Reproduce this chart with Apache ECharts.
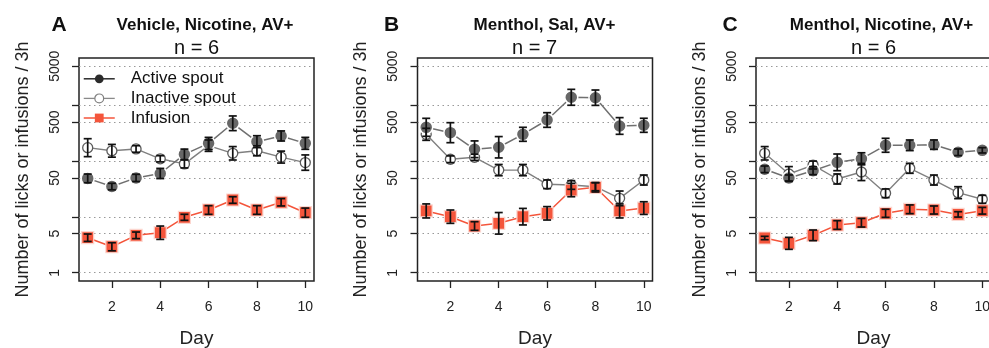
<!DOCTYPE html>
<html>
<head>
<meta charset="utf-8">
<script src="https://cdn.jsdelivr.net/npm/echarts@6/dist/echarts.min.js"></script>
<style>
  html, body { margin: 0; padding: 0; background: #fff; }
  #chart { width: 989px; height: 348px; }
</style>
</head>
<body>
<div id="chart"></div>
<script>
// data (mean and upper error per day)
const days = [1, 2, 3, 4, 5, 6, 7, 8, 9, 10];

const aActive = [49, 35, 50, 60, 132, 208, 476, 223, 282, 208];
const aActiveSem = [9.6, 5, 8, 14, 32, 58, 168, 62, 65, 58];
const aInactive = [174, 153, 165, 110, 89, 189, 138, 153, 118, 94];
const aInactiveSem = [78, 46, 24, 15, 16, 50, 44, 35, 33, 35];
const aInfusion = [4.24, 2.92, 4.68, 5.21, 9.84, 13.3, 20.1, 13.3, 18.3, 11.9];
const aInfusionSem = [0.7, 0.53, 0.68, 1.65, 1.3, 2.6, 2.9, 2.6, 3.0, 2.5];

const bActive = [403, 323, 163, 177, 302, 545, 1390, 1368, 426, 438];
const bActiveSem = [181, 165, 67, 98, 101, 192, 540, 510, 175, 147];
const bInactive = [302, 108, 117, 69, 69, 38.4, 37.3, 34.8, 21.5, 45.8];
const bInactiveSem = [85, 16, 16, 18, 18, 7.5, 7.3, 6.3, 7.6, 10.5];
const bInfusion = [12.8, 10.1, 6.87, 7.68, 10.1, 11.6, 30.3, 33.9, 12.8, 14.4];
const bInfusionSem = [4.3, 3.2, 1.34, 4.3, 4.1, 3.7, 9.6, 7.2, 4.3, 4.3];

const cActive = [71.3, 49.8, 67.3, 95, 110, 192, 192, 197, 144, 156];
const cActiveSem = [10.4, 6.6, 12, 39, 31, 64, 47, 42, 21, 18];
const cInactive = [138, 58.7, 85, 47.8, 63.8, 26.5, 74.3, 45.8, 27.2, 20.7];
const cInactiveSem = [44, 21, 15, 11, 27, 5.2, 17, 10.5, 7.6, 3.7];
const cInfusion = [4.19, 3.36, 4.68, 7.16, 7.87, 11.6, 13.7, 13.3, 11.1, 12.9];
const cInfusionSem = [0.3, 0.94, 1.15, 1.4, 1.53, 2.1, 2.7, 2.4, 1.3, 1.9];

const letters = ['A', 'B', 'C'];
const titles = ['Vehicle, Nicotine, AV+', 'Menthol, Sal, AV+', 'Menthol, Nicotine, AV+'];
const groupN = [6, 7, 6];

const yTickValues = [1, 5, 10, 50, 100, 500, 1000, 5000];
const yLabelValues = [1, 5, 50, 500, 5000];
const xLabelValues = [2, 4, 6, 8, 10];

const panels = [
  { active: aActive, activeSem: aActiveSem, inactive: aInactive, inactiveSem: aInactiveSem, inf: aInfusion, infSem: aInfusionSem },
  { active: bActive, activeSem: bActiveSem, inactive: bInactive, inactiveSem: bInactiveSem, inf: bInfusion, infSem: bInfusionSem },
  { active: cActive, activeSem: cActiveSem, inactive: cInactive, inactiveSem: cInactiveSem, inf: cInfusion, infSem: cInfusionSem }
];

const FONT = '"Liberation Sans", Arial, Helvetica, sans-serif';
const red = '#f4553b';
const gridLefts = [79, 417.5, 756];
const letterX = [59, 391.5, 730];
const titleX = [205, 544.5, 881.5];
const nX = [196.5, 534.5, 873.5];

function pairs(ys) {
  return days.map((d, i) => [d, ys[i]]);
}
// bars in the figure look even on the log axis: same ratio up and down
function errPairs(ys, sem) {
  return days.map((d, i) => {
    const hi = ys[i] + sem[i];
    return [d, ys[i] * ys[i] / hi, hi];
  });
}

function errRender(params, api) {
  const x = api.value(0);
  const top = api.coord([x, api.value(2)]);
  const bot = api.coord([x, api.value(1)]);
  const w = 4;
  const style = { stroke: '#111', lineWidth: 1.7 };
  return {
    type: 'group',
    children: [
      { type: 'line', shape: { x1: top[0], y1: top[1], x2: bot[0], y2: bot[1] }, style: style },
      { type: 'line', shape: { x1: top[0] - w, y1: top[1], x2: top[0] + w, y2: top[1] }, style: style },
      { type: 'line', shape: { x1: bot[0] - w, y1: bot[1], x2: bot[0] + w, y2: bot[1] }, style: style }
    ]
  };
}

const grids = [], xAxes = [], yAxes = [], series = [], graphics = [];

panels.forEach((p, k) => {
  grids.push({
    left: gridLefts[k], top: 58, width: 235, height: 223,
    show: true, borderColor: '#222', borderWidth: 1.5,
    outerBoundsMode: 'none', containLabel: false
  });
  xAxes.push({
    type: 'value', gridIndex: k, min: 0.64, max: 10.36,
    name: 'Day', nameLocation: 'middle', nameGap: 48,
    nameTextStyle: { fontFamily: FONT, fontSize: 19, color: '#222' },
    axisLine: { show: false },
    axisTick: { show: true, length: 7, customValues: xLabelValues, lineStyle: { color: '#222', width: 1.3 } },
    axisLabel: { customValues: xLabelValues, margin: 19, fontFamily: FONT, fontSize: 14, color: '#222' },
    splitLine: { show: false }
  });
  yAxes.push({
    type: 'log', logBase: 10, gridIndex: k, min: 0.711, max: 7034,
    name: 'Number of licks or infusions / 3h', nameLocation: 'middle', nameGap: 47,
    nameTextStyle: { fontFamily: FONT, fontSize: 18, color: '#222' },
    axisLine: { show: false },
    axisTick: { show: true, length: 7, customValues: yTickValues, lineStyle: { color: '#222', width: 1.3 } },
    axisLabel: {
      customValues: yLabelValues, rotate: 90, margin: 17,
      fontFamily: FONT, fontSize: 14, color: '#222',
      formatter: v => String(Math.round(v))
    },
    splitLine: { show: true, lineStyle: { color: '#999', width: 1, type: [1.5, 3.5] } }
  });

  series.push({
    name: 'Active spout', type: 'line', xAxisIndex: k, yAxisIndex: k,
    data: pairs(p.active), symbol: 'circle', symbolSize: 13,
    itemStyle: { color: '#676767', borderColor: '#fff', borderWidth: 1.5 },
    lineStyle: { color: '#707070', width: 1.5 }, z: 3
  });
  series.push({
    name: 'Inactive spout', type: 'line', xAxisIndex: k, yAxisIndex: k,
    data: pairs(p.inactive), symbol: 'circle', symbolSize: 10,
    itemStyle: { color: '#fff', borderColor: '#5c5c5c', borderWidth: 1.3 },
    lineStyle: { color: '#808080', width: 1.4 }, z: 2
  });
  series.push({
    name: 'Infusion', type: 'line', xAxisIndex: k, yAxisIndex: k,
    data: pairs(p.inf), symbol: 'rect', symbolSize: 12,
    itemStyle: { color: red, borderColor: '#fcd6cf', borderWidth: 1.2 },
    lineStyle: { color: red, width: 1.5 }, z: 3
  });
  [[p.active, p.activeSem], [p.inactive, p.inactiveSem], [p.inf, p.infSem]].forEach(([m, s]) => {
    series.push({
      type: 'custom', xAxisIndex: k, yAxisIndex: k, z: 5,
      data: errPairs(m, s), encode: { x: 0, y: [1, 2] },
      renderItem: errRender, silent: true
    });
  });

  graphics.push({
    type: 'text', x: letterX[k], y: 25,
    style: { text: letters[k], font: 'bold 21px ' + FONT, fill: '#111', align: 'center', verticalAlign: 'middle', textAlign: 'center', textVerticalAlign: 'middle' }
  });
  graphics.push({
    type: 'text', x: titleX[k], y: 25,
    style: { text: titles[k], font: 'bold 17px ' + FONT, fill: '#111', align: 'center', verticalAlign: 'middle', textAlign: 'center', textVerticalAlign: 'middle' }
  });
  graphics.push({
    type: 'text', x: nX[k], y: 48.5,
    style: { text: 'n = ' + groupN[k], font: '20px ' + FONT, fill: '#111', align: 'center', verticalAlign: 'middle', textAlign: 'center', textVerticalAlign: 'middle' }
  });
});

const chart = echarts.init(document.getElementById('chart'), null, { renderer: 'canvas' });
chart.setOption({
  animation: false,
  backgroundColor: '#fff',
  grid: grids,
  xAxis: xAxes,
  yAxis: yAxes,
  legend: {
    orient: 'vertical', left: 83, top: 69, padding: 0, itemGap: 0,
    itemWidth: 31, itemHeight: 11, selectedMode: false,
    textStyle: { fontFamily: FONT, fontSize: 17, color: '#111', lineHeight: 19.6, padding: [0, 0, 0, 11] },
    data: [
      { name: 'Active spout', itemStyle: { color: '#2b2b2b', borderWidth: 0 }, lineStyle: { color: '#2b2b2b', width: 1.5 } },
      { name: 'Inactive spout', itemStyle: { color: '#fff', borderColor: '#808080', borderWidth: 1.2 }, lineStyle: { color: '#8a8a8a', width: 1.3 } },
      { name: 'Infusion', itemStyle: { color: red, borderWidth: 0 }, lineStyle: { color: red, width: 1.5 } }
    ]
  },
  graphic: graphics,
  series: series
});
</script>
</body>
</html>
